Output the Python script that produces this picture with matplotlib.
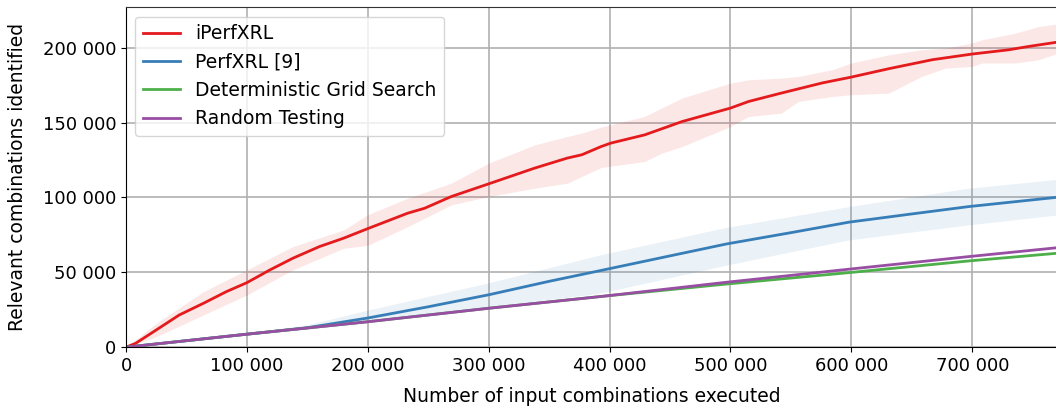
import numpy as np
import matplotlib
matplotlib.use("Agg")
import matplotlib.pyplot as plt
from matplotlib.ticker import FuncFormatter

# iPerfXRL mean curve
iperf_x = [0, 8e3, 25e3, 44e3, 64e3, 83e3, 100e3, 119e3, 138e3, 160e3, 180e3, 200e3,
           233e3, 247e3, 269e3, 300e3, 338e3, 365e3, 377e3, 393e3, 401e3, 429e3,
           460e3, 500e3, 515e3, 542e3, 576e3, 600e3, 631e3, 667e3, 700e3, 730e3,
           747e3, 771e3]
iperf_y = [0, 2.6e3, 11.5e3, 21.5e3, 29.3e3, 37.1e3, 43.1e3, 51.6e3, 59.4e3, 67.2e3,
           72.8e3, 79.2e3, 89.5e3, 92.8e3, 100.6e3, 109.1e3, 119.6e3, 126.3e3, 128.5e3,
           134e3, 136.3e3, 141.8e3, 150.7e3, 159.7e3, 164.1e3, 169.7e3, 176.5e3,
           180.4e3, 186e3, 192e3, 195.8e3, 198.6e3, 200.9e3, 203.8e3]

# iPerfXRL spread
iperf_band_x = [0, 25e3, 64e3, 100e3, 138e3, 180e3, 200e3, 233e3, 269e3, 300e3, 338e3,
                365e3, 377e3, 393e3, 429e3, 443e3, 460e3, 500e3, 515e3, 542e3, 556e3,
                584e3, 600e3, 631e3, 658e3, 678e3, 700e3, 708e3, 736e3, 755e3, 771e3]
iperf_lo = [0, 7e3, 21.5e3, 34.9e3, 51.6e3, 66.1e3, 68e3, 80.5e3, 95e3, 100.6e3, 106.2e3,
            109.5e3, 114e3, 120e3, 124e3, 129.6e3, 134e3, 147.4e3, 154.1e3, 156.3e3,
            164.1e3, 167.4e3, 168.6e3, 169.7e3, 180.8e3, 186.4e3, 187.5e3, 189.8e3,
            189.8e3, 192e3, 196.4e3]
iperf_hi = [0, 16e3, 37.1e3, 51.6e3, 67.2e3, 78.3e3, 88.5e3, 99.5e3, 109.5e3, 122.9e3,
            135.1e3, 140.7e3, 143e3, 147e3, 154.1e3, 159.7e3, 166.4e3, 176.4e3, 178.6e3,
            179.7e3, 180.8e3, 185.3e3, 189.8e3, 195.3e3, 198.6e3, 199.8e3, 203.1e3,
            205.3e3, 209.8e3, 214.2e3, 216e3]

# PerfXRL
perf_x = [0, 100e3, 150e3, 200e3, 250e3, 300e3, 350e3, 392e3, 450e3, 497e3, 550e3,
          598e3, 650e3, 697e3, 771e3]
perf_y = [0, 8.7e3, 13e3, 19.5e3, 27e3, 35e3, 44e3, 51.1e3, 61e3, 69e3, 76.5e3,
          83.5e3, 89e3, 93.9e3, 100.2e3]
perf_band_x = [0, 100e3, 150e3, 200e3, 300e3, 392e3, 497e3, 598e3, 697e3, 771e3]
perf_lo = [0, 8e3, 12e3, 17e3, 27e3, 36e3, 54.9e3, 71.7e3, 81.7e3, 88.4e3]
perf_hi = [0, 9.5e3, 15e3, 24.8e3, 43e3, 61.6e3, 80.1e3, 93.9e3, 106.2e3, 112.2e3]

# baselines
base_x = [0, 100e3, 200e3, 300e3, 392e3, 497e3, 598e3, 697e3, 771e3]
grid_y = [0, 8.7e3, 17e3, 26e3, 33.8e3, 42.2e3, 49.8e3, 57.6e3, 62.8e3]
random_y = [0, 8.7e3, 17e3, 26e3, 33.8e3, 43.4e3, 52.1e3, 60.5e3, 66.5e3]

RED, BLUE, GREEN, PURPLE = "#e41a1c", "#377eb8", "#4daf4a", "#984ea3"

plt.rcParams["font.family"] = "DejaVu Sans"
plt.rcParams["xtick.labelsize"] = 13
plt.rcParams["ytick.labelsize"] = 13

fig = plt.figure(figsize=(10.56, 4.07), dpi=100)
ax = fig.add_axes([126 / 1056, 1 - 347.2 / 407, 1 - 126 / 1056 + 0.002, (347.2 - 7.3) / 407])

ax.fill_between(iperf_band_x, iperf_lo, iperf_hi, color=RED, alpha=0.1, linewidth=0)
ax.fill_between(perf_band_x, perf_lo, perf_hi, color=BLUE, alpha=0.1, linewidth=0)
ax.plot(iperf_x, iperf_y, color=RED, lw=2, label="iPerfXRL")
ax.plot(perf_x, perf_y, color=BLUE, lw=2, label="PerfXRL [9]")
ax.plot(base_x, grid_y, color=GREEN, lw=2, label="Deterministic Grid Search")
ax.plot(base_x, random_y, color=PURPLE, lw=2, label="Random Testing")

ax.set_xlim(0, 771e3)
ax.set_ylim(0, 227e3)
ax.set_xticks(np.arange(0, 700001, 100000))
ax.set_yticks(np.arange(0, 200001, 50000))
fmt = FuncFormatter(lambda v, p: f"{int(v):,}".replace(",", " "))
ax.xaxis.set_major_formatter(fmt)
ax.yaxis.set_major_formatter(fmt)
ax.grid(True, color="#b0b0b0", lw=1.2)
ax.set_axisbelow(True)
ax.spines["top"].set_color("#333333")
ax.set_xlabel("Number of input combinations executed", fontsize=13.5, labelpad=9)
ax.set_ylabel("Relevant combinations identified", fontsize=13.5, labelpad=11)
ax.legend(loc="upper left", fontsize=13.5, borderaxespad=0.5)

fig.savefig("out.png", dpi=100)
